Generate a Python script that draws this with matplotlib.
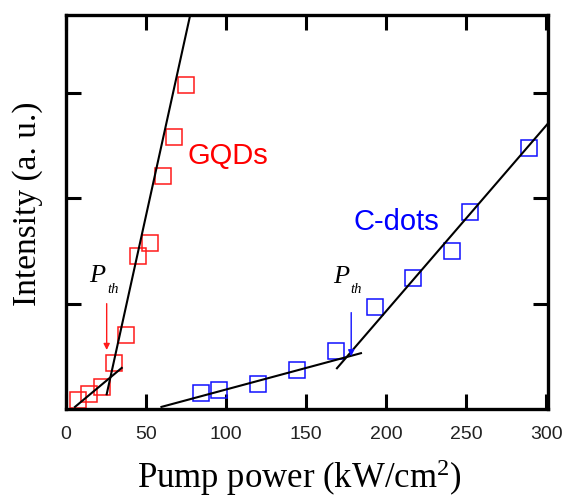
import matplotlib
matplotlib.use("Agg")
import matplotlib.pyplot as plt

plt.rcParams['mathtext.fontset'] = 'custom'
plt.rcParams['mathtext.rm'] = 'Liberation Serif'
plt.rcParams['mathtext.it'] = 'Liberation Serif:italic'

# GQDs measurements
gqd_power = [7.2, 14.6, 22.2, 30.1, 37.6, 45.2, 52.4, 60.6, 67.7, 75.2]
gqd_intensity = [0.09, 0.14, 0.21, 0.44, 0.70, 1.45, 1.58, 2.21, 2.58, 3.08]

# C-dots measurements
cdot_power = [84.2, 95.8, 120.2, 144.2, 168.3, 192.7, 216.7, 240.8, 252.5, 289.0]
cdot_intensity = [0.15, 0.18, 0.24, 0.37, 0.55, 0.97, 1.24, 1.50, 1.87, 2.48]

# linear fits (below / above threshold), end points
gqd_fit_low_x = [5.6, 34.8]
gqd_fit_low_y = [0.02, 0.39]
gqd_fit_high_x = [25.4, 78.0]
gqd_fit_high_y = [0.14, 3.77]
cdot_fit_low_x = [59.6, 184.2]
cdot_fit_low_y = [0.02, 0.53]
cdot_fit_high_x = [169.2, 300.4]
cdot_fit_high_y = [0.387, 2.70]

# thresholds
gqd_pth = 25.4
cdot_pth = 178.1

x_ticks = [0, 50, 100, 150, 200, 250, 300]
y_ticks = [1, 2, 3]

red = '#ff1a1a'
blue = '#1010ff'

fig = plt.figure(figsize=(5.68, 4.98), dpi=100)
ax = fig.add_axes([0.1162, 0.1787, 0.8486, 0.7912])

ax.plot(gqd_power, gqd_intensity, 's', ms=12, mfc='none', mec=red, mew=1.1)
ax.plot(cdot_power, cdot_intensity, 's', ms=12, mfc='none', mec=blue, mew=1.1)

for fx, fy in [(gqd_fit_low_x, gqd_fit_low_y), (gqd_fit_high_x, gqd_fit_high_y),
               (cdot_fit_low_x, cdot_fit_low_y), (cdot_fit_high_x, cdot_fit_high_y)]:
    ax.plot(fx, fy, color='black', lw=1.5)

# threshold arrows
ax.annotate('', xy=(gqd_pth, 0.56), xytext=(gqd_pth, 1.0),
            arrowprops=dict(arrowstyle='-|>', color=red, lw=1.0,
                            mutation_scale=9, shrinkA=0, shrinkB=0))
ax.annotate('', xy=(cdot_pth, 0.50), xytext=(cdot_pth, 0.915),
            arrowprops=dict(arrowstyle='-|>', color=blue, lw=1.0,
                            mutation_scale=9, shrinkA=0, shrinkB=0))

# P_th labels
for px, py, sx, sy in [(14.6, 1.21, 26.1, 1.10), (166.7, 1.20, 177.5, 1.10)]:
    ax.text(px, py, 'P', family='Liberation Serif', style='italic',
            fontsize=19, ha='left', va='baseline')
    ax.text(sx, sy, 'th', family='Liberation Serif', style='italic',
            fontsize=10.5, ha='left', va='baseline')

ax.text(75.6, 2.33, 'GQDs', color='red', family='Liberation Sans',
        fontsize=21, ha='left', va='baseline')
ax.text(179.4, 1.70, 'C-dots', color='blue', family='Liberation Sans',
        fontsize=21, ha='left', va='baseline')

ax.set_xlim(0, 301)
ax.set_ylim(0, 3.74)
ax.set_xticks(x_ticks)
ax.set_yticks(y_ticks)
ax.set_yticklabels([])
ax.tick_params(direction='in', length=11, width=2.2, top=True, right=True,
               labelsize=14, pad=12, labelcolor='#222222')
for label in ax.get_xticklabels():
    label.set_family('Liberation Sans')
for spine in ax.spines.values():
    spine.set_linewidth(2.4)

ax.set_xlabel('Pump power (kW/cm$^2$)', family='Liberation Serif', fontsize=25,
              va='top')
ax.xaxis.set_label_coords(0.483, -0.122)
ax.set_ylabel('Intensity (a. u.)', family='Liberation Serif', fontsize=24)
ax.yaxis.set_label_coords(-0.048, 0.52)

fig.savefig('out.png', dpi=100)
